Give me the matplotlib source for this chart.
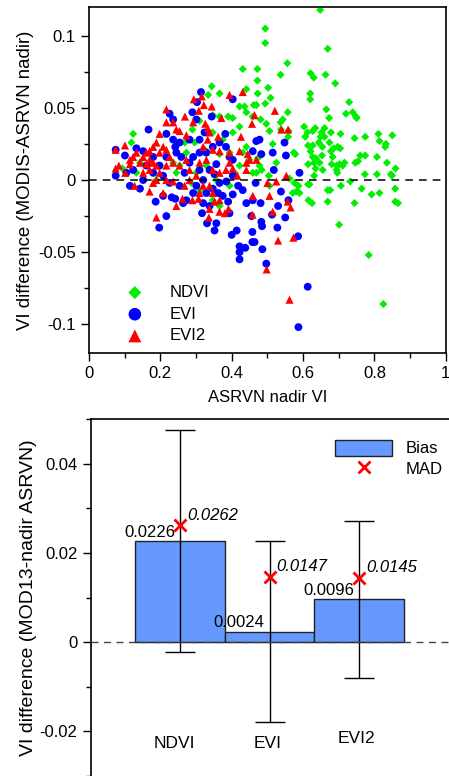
import matplotlib
matplotlib.use('Agg')
import matplotlib.pyplot as plt
from matplotlib.ticker import MultipleLocator
from matplotlib.lines import Line2D
from matplotlib.patches import Patch

plt.rcParams['font.family'] = ['Liberation Sans', 'DejaVu Sans']

# ---- scatter data ----
ndvi_x = [0.648, 0.494, 0.494, 0.669, 0.556, 0.431, 0.472, 0.621, 0.663, 0.537, 0.630, 0.472, 0.690,
          0.344, 0.502, 0.441, 0.620, 0.473, 0.366, 0.334, 0.509, 0.620, 0.729, 0.494, 0.469, 0.462,
          0.436, 0.422, 0.665, 0.720, 0.557, 0.739, 0.748, 0.750, 0.673, 0.543, 0.537, 0.390, 0.403,
          0.366, 0.347, 0.441, 0.459, 0.481, 0.497, 0.603, 0.634, 0.660, 0.506, 0.538, 0.559, 0.612,
          0.627, 0.652, 0.678, 0.705, 0.811, 0.850, 0.774, 0.649, 0.660, 0.606, 0.558, 0.744, 0.124,
          0.814, 0.644, 0.674, 0.515, 0.614, 0.627, 0.832, 0.830, 0.654, 0.686, 0.697, 0.704, 0.441,
          0.574, 0.621, 0.678, 0.578, 0.760, 0.774, 0.653, 0.627, 0.683, 0.807, 0.366, 0.636, 0.473,
          0.754, 0.746, 0.835, 0.631, 0.646, 0.525, 0.680, 0.702, 0.716, 0.614, 0.711, 0.694, 0.478,
          0.859, 0.635, 0.655, 0.694, 0.696, 0.469, 0.484, 0.773, 0.807, 0.846, 0.849, 0.631, 0.504,
          0.562, 0.732, 0.576, 0.587, 0.614, 0.706, 0.618, 0.506, 0.858, 0.676, 0.669, 0.581, 0.764,
          0.814, 0.792, 0.571, 0.590, 0.615, 0.625, 0.669, 0.744, 0.858, 0.866, 0.701, 0.784, 0.825,
          0.119, 0.094, 0.143, 0.133, 0.269, 0.290, 0.310, 0.273, 0.245, 0.287, 0.310, 0.347, 0.366,
          0.408, 0.422, 0.394, 0.375, 0.403, 0.422, 0.347, 0.189, 0.236, 0.459, 0.450, 0.431, 0.329,
          0.357, 0.301, 0.394, 0.254, 0.198, 0.324, 0.296]
ndvi_y = [0.118, 0.105, 0.095, 0.091, 0.081, 0.077, 0.077, 0.074, 0.073, 0.073, 0.071, 0.069, 0.067,
          0.065, 0.064, 0.063, 0.060, 0.060, 0.060, 0.059, 0.057, 0.056, 0.054, 0.053, 0.052, 0.052,
          0.051, 0.051, 0.049, 0.046, 0.047, 0.047, 0.044, 0.043, 0.043, 0.042, 0.040, 0.044, 0.043,
          0.044, 0.045, 0.047, 0.044, 0.042, 0.039, 0.037, 0.036, 0.036, 0.034, 0.035, 0.034, 0.033,
          0.034, 0.033, 0.033, 0.032, 0.032, 0.031, 0.030, 0.030, 0.030, 0.030, 0.030, 0.029, 0.032,
          0.027, 0.026, 0.026, 0.025, 0.024, 0.024, 0.025, 0.023, 0.023, 0.022, 0.023, 0.022, 0.023,
          0.019, 0.020, 0.020, 0.018, 0.017, 0.017, 0.017, 0.016, 0.016, 0.016, 0.018, 0.015, 0.015,
          0.013, 0.012, 0.012, 0.012, 0.012, 0.012, 0.011, 0.011, 0.012, 0.011, 0.010, 0.010, 0.010,
          0.008, 0.008, 0.007, 0.007, 0.005, 0.005, 0.007, 0.004, 0.004, 0.004, 0.003, 0.003, 0.003,
          0.001, -0.001, -0.002, -0.004, -0.003, -0.004, -0.003, -0.004, -0.006, -0.007, -0.007, -0.008, -0.006,
          -0.009, -0.010, -0.009, -0.009, -0.014, -0.016, -0.015, -0.016, -0.015, -0.016, -0.031, -0.052, -0.086,
          0.026, 0.008, 0.012, 0.005, 0.026, 0.035, 0.041, 0.019, 0.005, -0.002, -0.008, -0.014, -0.018,
          0.005, 0.010, 0.019, 0.028, 0.033, 0.037, 0.033, 0.000, 0.012, 0.005, 0.014, 0.019, 0.010,
          0.000, 0.005, -0.004, 0.010, 0.010, 0.021, 0.026]

evi_x = [0.075, 0.101, 0.075, 0.115, 0.143, 0.133, 0.152, 0.167, 0.187, 0.197, 0.217, 0.208, 0.226,
         0.236, 0.217, 0.236, 0.242, 0.245, 0.259, 0.217, 0.232, 0.242, 0.264, 0.273, 0.292, 0.314,
         0.303, 0.290, 0.301, 0.403, 0.317, 0.331, 0.352, 0.357, 0.320, 0.338, 0.362, 0.347, 0.375,
         0.390, 0.394, 0.400, 0.414, 0.422, 0.422, 0.422, 0.438, 0.455, 0.458, 0.458, 0.464, 0.483,
         0.485, 0.486, 0.497, 0.441, 0.459, 0.481, 0.467, 0.469, 0.478, 0.459, 0.483, 0.515, 0.518,
         0.530, 0.513, 0.528, 0.538, 0.548, 0.552, 0.550, 0.559, 0.590, 0.586, 0.613, 0.587, 0.384,
         0.394, 0.382, 0.366, 0.347, 0.329, 0.310, 0.282, 0.268, 0.338, 0.352, 0.320, 0.366, 0.385,
         0.403, 0.418, 0.431, 0.403, 0.344, 0.324, 0.310, 0.282, 0.254, 0.198, 0.180, 0.161, 0.152,
         0.124, 0.105, 0.180, 0.208, 0.226, 0.254, 0.301, 0.329, 0.292, 0.310, 0.403, 0.357]
evi_y = [0.021, 0.017, 0.003, -0.004, -0.006, 0.022, 0.020, 0.035, -0.015, -0.033, -0.025, -0.011, 0.046,
         0.042, 0.032, 0.028, 0.023, 0.019, 0.016, 0.016, -0.012, -0.013, -0.016, -0.014, -0.009, 0.061,
         0.054, 0.047, 0.042, 0.056, -0.023, -0.030, -0.035, -0.030, -0.016, -0.018, -0.009, -0.006, -0.011,
         -0.015, -0.023, -0.038, -0.035, -0.046, -0.050, -0.055, -0.047, -0.025, -0.036, -0.043, -0.043, -0.029,
         -0.032, -0.048, -0.058, -0.016, -0.014, -0.016, -0.002, 0.027, 0.028, 0.020, 0.018, 0.019, 0.007,
         -0.018, -0.024, -0.033, -0.008, 0.026, 0.017, -0.026, -0.014, 0.005, -0.039, -0.074, -0.102, 0.023,
         0.016, 0.032, 0.026, 0.023, 0.019, 0.019, 0.012, 0.005, 0.007, 0.004, 0.000, -0.002, -0.001,
         0.003, -0.004, -0.007, -0.010, 0.044, 0.033, 0.028, 0.028, 0.026, 0.010, 0.005, 0.010, 0.000,
         0.007, 0.005, 0.016, 0.003, -0.002, -0.004, -0.004, -0.009, 0.016, 0.007, 0.014, 0.011]

evi2_x = [0.075, 0.101, 0.075, 0.084, 0.115, 0.133, 0.128, 0.189, 0.180, 0.189, 0.198, 0.217, 0.217,
          0.236, 0.245, 0.254, 0.269, 0.294, 0.316, 0.322, 0.308, 0.344, 0.371, 0.394, 0.431, 0.521,
          0.464, 0.457, 0.426, 0.558, 0.539, 0.292, 0.273, 0.326, 0.333, 0.338, 0.333, 0.362, 0.320,
          0.347, 0.366, 0.394, 0.422, 0.445, 0.450, 0.469, 0.441, 0.416, 0.553, 0.525, 0.500, 0.459,
          0.506, 0.557, 0.565, 0.515, 0.458, 0.530, 0.573, 0.498, 0.562, 0.391, 0.381, 0.366, 0.338,
          0.336, 0.352, 0.307, 0.290, 0.262, 0.245, 0.208, 0.170, 0.152, 0.161, 0.170, 0.180, 0.189,
          0.198, 0.208, 0.217, 0.226, 0.236, 0.189, 0.198, 0.180, 0.170, 0.161, 0.143, 0.152, 0.170,
          0.217, 0.217, 0.236, 0.254, 0.273, 0.282, 0.301, 0.310, 0.329, 0.347, 0.366, 0.384, 0.394,
          0.320, 0.338, 0.310, 0.347, 0.366, 0.268, 0.282, 0.441, 0.403, 0.102, 0.115, 0.124]
evi2_y = [0.021, 0.024, 0.008, 0.010, 0.011, 0.019, -0.004, -0.026, 0.023, 0.026, 0.032, 0.049, 0.040,
          0.040, 0.035, 0.034, 0.044, 0.056, 0.058, 0.052, 0.048, 0.051, 0.043, 0.059, 0.061, 0.048,
          0.045, 0.039, 0.030, 0.035, 0.035, 0.040, 0.031, 0.039, 0.036, 0.033, 0.028, 0.030, 0.023,
          0.021, 0.020, 0.019, 0.020, 0.018, 0.014, 0.014, 0.007, 0.003, 0.003, -0.001, -0.002, -0.011,
          -0.011, -0.015, -0.019, -0.022, -0.024, -0.042, -0.040, -0.062, -0.083, -0.020, -0.023, -0.022, -0.020,
          -0.026, -0.015, -0.013, -0.014, -0.013, -0.018, -0.009, -0.008, 0.005, 0.019, 0.014, 0.012, 0.010,
          0.019, 0.023, 0.021, 0.016, 0.012, 0.000, 0.005, -0.002, 0.007, 0.011, 0.012, 0.016, 0.020,
          0.010, 0.000, -0.001, 0.010, 0.014, 0.007, 0.003, 0.012, 0.014, 0.007, 0.005, 0.007, 0.012,
          -0.004, -0.004, -0.009, -0.009, -0.014, -0.004, 0.000, 0.012, 0.008, 0.005, 0.014, 0.016]

# ---- bar chart data ----
vi_names = ['NDVI', 'EVI', 'EVI2']
bias = [0.0226, 0.0024, 0.0096]
bias_err = [0.0249, 0.0203, 0.0176]
mad = [0.0262, 0.0147, 0.0145]

fig = plt.figure(figsize=(4.49, 7.76), dpi=100)

# ---------- top panel: scatter ----------
ax1 = fig.add_axes([0.198, 0.545, 0.795, 0.446])
ax1.scatter(ndvi_x, ndvi_y, marker='D', s=17, color='#00ee00', edgecolors='none', label='NDVI', zorder=2)
ax1.scatter(evi_x, evi_y, marker='o', s=32, color='#0000ff', edgecolors='none', label='EVI', zorder=3)
ax1.scatter(evi2_x, evi2_y, marker='^', s=34, color='#ff0000', edgecolors='none', label='EVI2', zorder=4)
ax1.axhline(0, color='black', lw=1.1, ls=(0, (5, 4)), zorder=5)
ax1.set_xlim(0, 1)
ax1.set_ylim(-0.12, 0.12)
ax1.xaxis.set_minor_locator(MultipleLocator(0.1))
ax1.yaxis.set_minor_locator(MultipleLocator(0.025))
ax1.set_xticks([0, 0.2, 0.4, 0.6, 0.8, 1.0])
ax1.set_xticklabels(['0', '0.2', '0.4', '0.6', '0.8', '1'])
ax1.set_yticks([-0.1, -0.05, 0, 0.05, 0.1])
ax1.set_yticklabels(['-0.1', '-0.05', '0', '0.05', '0.1'])
ax1.tick_params(which='major', direction='out', length=6, width=1, labelsize=12)
ax1.tick_params(which='minor', direction='out', length=3.5, width=1)
ax1.tick_params(top=False, right=False, which='both')
for sp in ax1.spines.values():
    sp.set_linewidth(1.2)
ax1.set_xlabel('ASRVN nadir VI', fontsize=12, labelpad=6)
ax1.set_ylabel('VI difference (MODIS-ASRVN nadir)', fontsize=13.4, labelpad=3)
ax1.legend(loc='lower left', bbox_to_anchor=(0.04, -0.015), frameon=False, fontsize=12,
           markerscale=1.6, handletextpad=1.1, labelspacing=0.4)

# ---------- bottom panel: bias bars ----------
ax2 = fig.add_axes([0.202, 0.0, 0.797, 0.4597])
pos = [1, 2, 3]
ax2.bar(pos, bias, width=1.0, color='#6699ff', edgecolor='#222222', linewidth=1.0, zorder=2)
ax2.errorbar(pos, bias, yerr=bias_err, fmt='none', ecolor='black', elinewidth=1.0,
             capsize=10.8, capthick=1.0, zorder=3)
ax2.plot(pos, mad, ls='none', marker='x', color='#ff0000', markersize=8, mew=2, zorder=4)
ax2.axhline(0, color='#444444', lw=1.0, ls=(0, (5, 4)), zorder=5)

for p, b in zip(pos, bias):
    ax2.annotate('%.4f' % b, (p, b), xytext=(-3.6, 3), textcoords='offset points',
                 ha='right', va='baseline', fontsize=12, zorder=6)
for p, m in zip(pos, mad):
    ax2.annotate('%.4f' % m, (p, m), xytext=(5, 4), textcoords='offset points',
                 ha='left', va='baseline', fontsize=12, style='italic', zorder=6)

name_dx = [-0.07, -0.02, -0.03]
name_y = [-0.0227, -0.0227, -0.0216]
for p, n, dx, yy in zip(pos, vi_names, name_dx, name_y):
    ax2.text(p + dx, yy, n, ha='center', va='center', fontsize=12.5)

ax2.set_xlim(0, 4)
ax2.set_ylim(-0.03, 0.05)
ax2.set_xticks([])
ax2.yaxis.set_minor_locator(MultipleLocator(0.01))
ax2.set_yticks([-0.02, 0, 0.02, 0.04])
ax2.set_yticklabels(['-0.02', '0', '0.02', '0.04'])
ax2.tick_params(which='major', direction='out', length=6, width=1, labelsize=12)
ax2.tick_params(which='minor', direction='out', length=3.5, width=1)
ax2.spines['bottom'].set_visible(False)
ax2.spines['right'].set_visible(False)
ax2.spines['left'].set_linewidth(1.2)
ax2.spines['top'].set_linewidth(1.2)
ax2.set_ylabel('VI difference (MOD13-nadir ASRVN)', fontsize=14, labelpad=2)

handles = [Patch(facecolor='#6699ff', edgecolor='#222222', linewidth=1.0),
           Line2D([], [], ls='none', marker='x', color='#ff0000', markersize=8, mew=2)]
ax2.legend(handles, ['Bias', 'MAD'], loc='upper right', bbox_to_anchor=(1.025, 0.985),
           frameon=False, fontsize=12, handlelength=3.4, handleheight=1.1,
           handletextpad=0.8, labelspacing=0.25)

fig.savefig('out.png', dpi=100)
